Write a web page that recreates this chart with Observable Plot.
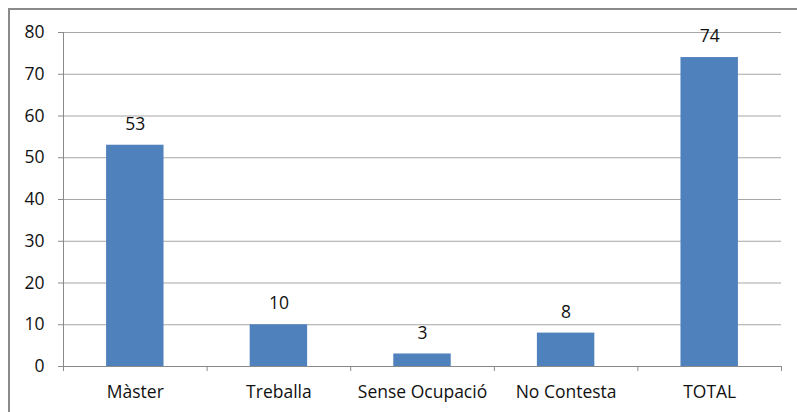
<!DOCTYPE html>
<html>
<head>
<meta charset="utf-8">
<script src="https://cdn.jsdelivr.net/npm/d3@7"></script>
<script src="https://cdn.jsdelivr.net/npm/@observablehq/plot@0.6"></script>
<style>
  html, body { margin: 0; padding: 0; background: #fff; }
  #wrap { position: relative; width: 797px; height: 412px; overflow: hidden; }
  #frame { position: absolute; left: 8px; top: 8px; width: 900px; height: 500px;
           border-left: 2px solid #8a8a8a; border-top: 2px solid #8a8a8a; }
  #chart { position: absolute; left: 0; top: 0; }
</style>
</head>
<body>
<div id="wrap"><div id="frame"></div><div id="chart"></div></div>
<script>
const categories = ["Màster", "Treballa", "Sense Ocupació", "No Contesta", "TOTAL"];
const values = [53, 10, 3, 8, 74];
const yTicks = [0, 10, 20, 30, 40, 50, 60, 70, 80];

const data = categories.map((c, i) => ({cat: c, value: values[i], i}));
const font = "'Open Sans', sans-serif";
const fs = 17.5;

const chart = Plot.plot({
  width: 797,
  height: 412,
  marginLeft: 63,
  marginRight: 16,
  marginTop: 32,
  marginBottom: 46,
  style: {fontFamily: font, fontSize: fs + "px", color: "#000", background: "transparent"},
  x: {domain: [0, categories.length], axis: null},
  y: {domain: [0, 80], axis: null},
  marks: [
    Plot.gridY(yTicks, {stroke: "#a6a6a6", strokeOpacity: 1, strokeWidth: 1}),
    Plot.axisY(yTicks, {tickSize: 5, tickPadding: 14, stroke: "#8a8a8a", fontSize: fs, fill: "#111", label: null}),
    Plot.rectY(data, {x1: d => d.i + 0.3, x2: d => d.i + 0.7, y1: 0, y2: "value", fill: "#4f81bd"}),
    Plot.ruleY([0], {stroke: "#8a8a8a"}),
    Plot.ruleX([0], {y1: 0, y2: 80, stroke: "#8a8a8a"}),
    Plot.axisX(d3.range(categories.length + 1), {tickSize: 5, tickFormat: () => "", stroke: "#8a8a8a", label: null}),
    Plot.axisX(data.map(d => d.i + 0.5), {tickSize: 0, tickPadding: 19, tickFormat: (d) => categories[Math.floor(d)], fontSize: fs, fill: "#111", label: null}),
    Plot.text(data, {x: d => d.i + 0.5, y: "value", text: d => String(d.value), dy: -21, fontSize: fs, fill: "#111"})
  ]
});
document.getElementById("chart").appendChild(chart);
</script>
</body>
</html>
